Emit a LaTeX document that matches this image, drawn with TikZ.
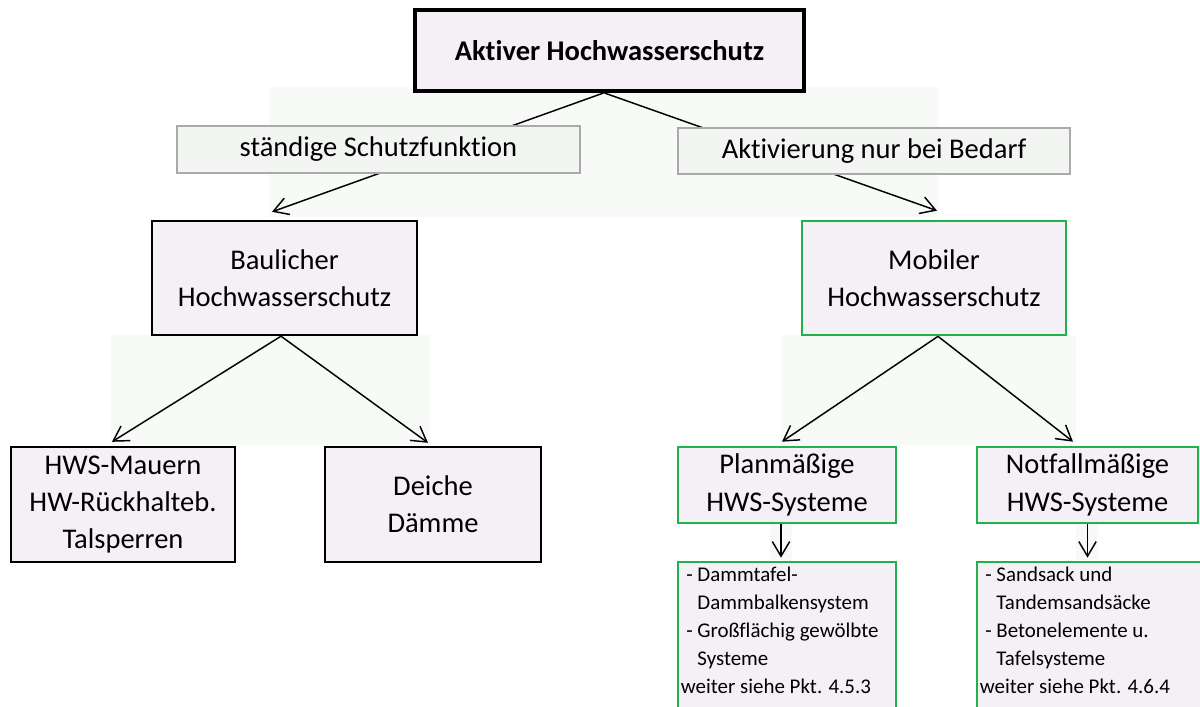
\documentclass[tikz,border=0pt]{standalone}
\usepackage{fontspec}
\setmainfont{Carlito}[Ligatures=NoCommon]
\usetikzlibrary{arrows.meta,calc}
\definecolor{boxfill}{RGB}{245,240,245}
\definecolor{labfill}{RGB}{243,245,243}
\definecolor{labdraw}{RGB}{170,170,170}
\definecolor{bgfaint}{RGB}{247,250,247}
\definecolor{hwsgreen}{RGB}{34,177,76}
\pgfdeclarelayer{bglayer}
\pgfdeclarelayer{connlayer}
\pgfsetlayers{bglayer,connlayer,main}
\begin{document}
\begin{tikzpicture}[x=0.75pt,y=-0.75pt,
  bigfont/.style={font=\fontsize{21.4pt}{28pt}\selectfont},
  smallfont/.style={font=\fontsize{15.7pt}{21pt}\selectfont},
  mainbox/.style={draw=black,line width=1.8pt,fill=boxfill,align=center,inner sep=0pt,bigfont},
  topbox/.style={mainbox,line width=3pt},
  greenbox/.style={mainbox,draw=hwsgreen,line width=2pt},
  labbox/.style={draw=labdraw,line width=0.8pt,fill=labfill,inner sep=0pt,bigfont},
  listtext/.style={inner sep=0pt,align=left,smallfont},
  conn/.style={line width=1.1pt,-{Straight Barb[length=11pt,width=13pt,line width=1.1pt]}},
  faint/.style={fill=bgfaint,draw=none}]
\useasboundingbox (0,0) rectangle (1200,707);
\clip (0,0) rectangle (1200,707);

% nodes
\node[topbox,minimum width=389*0.75pt,minimum height=81*0.75pt] (top) at (609.5,50.5) {\textbf{Aktiver Hochwasserschutz}};
\node[labbox,minimum width=403*0.75pt,minimum height=47*0.75pt] (lab1) at (378.5,149.5) {ständige Schutzfunktion};
\node[labbox,minimum width=392*0.75pt,minimum height=46*0.75pt] (lab2) at (874,151) {Aktivierung nur bei Bedarf};
\node[mainbox,minimum width=265*0.75pt,minimum height=114*0.75pt] (baul) at (284.5,278) {Baulicher\\Hochwasserschutz};
\node[greenbox,minimum width=264*0.75pt,minimum height=114*0.75pt] (mob) at (934,278) {Mobiler\\Hochwasserschutz};
\node[mainbox,minimum width=224*0.75pt,minimum height=115*0.75pt] (hws) at (123,504.5) {HWS-Mauern\\HW-Rückhalteb.\\Talsperren};
\node[mainbox,minimum width=216*0.75pt,minimum height=115*0.75pt] (deich) at (433,504.5) {Deiche\\Dämme};
\node[greenbox,minimum width=218*0.75pt,minimum height=76*0.75pt] (planm) at (787,485) {Planmäßige\\HWS-Systeme};
\node[greenbox,minimum width=221*0.75pt,minimum height=76*0.75pt] (notf) at (1087.5,485) {Notfallmäßige\\HWS-Systeme};
\node[greenbox,minimum width=218*0.75pt,minimum height=168*0.75pt] (l1) at (787,646) {};
\node[greenbox,minimum width=233*0.75pt,minimum height=168*0.75pt] (l2) at (1093.5,646) {};
\node[listtext,anchor=north west] (t1) at ($(l1.north west)+(4,0)$)
  {\rule{0pt}{15.75pt}\hspace{4pt}- Dammtafel-\\
   \hspace{4pt}\phantom{- }Dammbalkensystem\\
   \hspace{4pt}- Großflächig gewölbte\\
   \hspace{4pt}\phantom{- }Systeme\\
   weiter siehe Pkt. 4.5.3};
\node[listtext,anchor=north west] (t2) at ($(l2.north west)+(4,0)$)
  {\rule{0pt}{15.75pt}\hspace{4pt}- Sandsack und\\
   \hspace{4pt}\phantom{- }Tandemsandsäcke\\
   \hspace{4pt}- Betonelemente u.\\
   \hspace{4pt}\phantom{- }Tafelsysteme\\
   weiter siehe Pkt. 4.6.4};

\begin{pgfonlayer}{bglayer}
  \fill[faint] (269,87) rectangle (938,217);
  \fill[faint] (111,335) rectangle (430,445);
  \fill[faint] (781,335) rectangle (1076,445);
  \fill[faint] (770,523) rectangle (792,560);
  \fill[faint] (1076,523) rectangle (1098,560);
\end{pgfonlayer}

\begin{pgfonlayer}{connlayer}
  \draw[conn] ($(top.south)+(-6,0)$) -- ($(baul.north)+(-12.5,-8)$);
  \draw[conn] ($(top.south)+(-5,0)$) -- ($(mob.north)+(3,-9)$);
  \draw[conn] ($(baul.south)+(-3.5,0)$) -- ($(hws.north)+(-11,-4)$);
  \draw[conn] ($(baul.south)+(-3.5,0)$) -- ($(deich.north)+(-5,-3)$);
  \draw[conn] ($(mob.south)+(4,0)$) -- ($(planm.north)+(-5,-4)$);
  \draw[conn] ($(mob.south)+(4,0)$) -- ($(notf.north)+(-14.5,-4)$);
  \draw[conn] ($(planm.south)+(-6,0)$) -- ($(planm.south |- l1.north)+(-6,-3)$);
  \draw[conn] (notf.south) -- ($(notf.south |- l2.north)+(0,-3)$);
\end{pgfonlayer}
\end{tikzpicture}
\end{document}
